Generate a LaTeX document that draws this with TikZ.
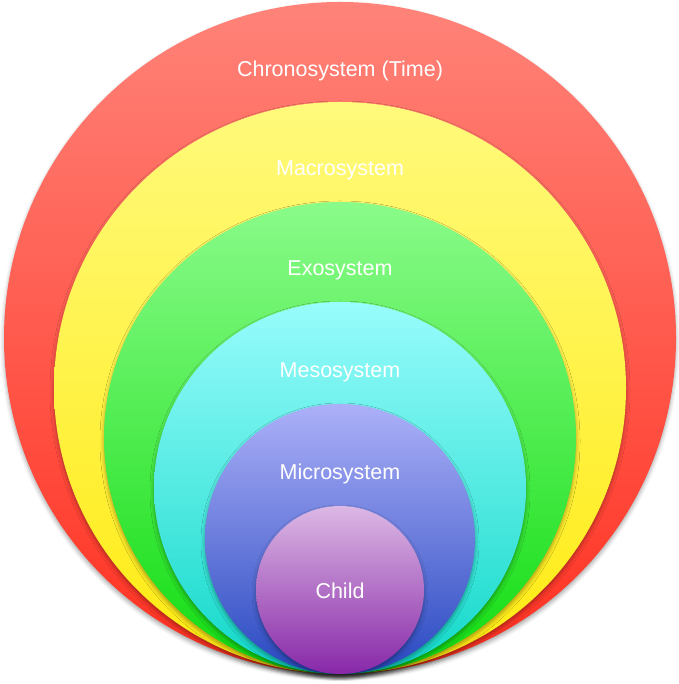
\documentclass[tikz,border=0pt]{standalone}
\usepackage{fontspec}
\setmainfont{Liberation Sans}
\usetikzlibrary{shadows.blur}
\definecolor{redT}{HTML}{FF8379}\definecolor{redB}{HTML}{FF3020}
\definecolor{yelT}{HTML}{FFFA7C}\definecolor{yelB}{HTML}{FFEA10}
\definecolor{grnT}{HTML}{8AFB8A}\definecolor{grnB}{HTML}{10DC10}
\definecolor{cynT}{HTML}{98FCFC}\definecolor{cynB}{HTML}{10D8C8}
\definecolor{bluT}{HTML}{ACB0F8}\definecolor{bluB}{HTML}{2848C0}
\definecolor{chdT}{HTML}{DCB8E4}\definecolor{chdB}{HTML}{8828A8}
\tikzset{
  ring/.style={circle, inner sep=0pt, minimum size=#1, draw=none,
    blur shadow={shadow xshift=0pt, shadow yshift=-3pt, shadow blur radius=4pt, shadow opacity=35}},
  lbl/.style={text=white, font=\fontsize{21.5}{26}\selectfont, inner sep=0pt}
}
\begin{document}
\begin{tikzpicture}[x=1pt,y=1pt]
\useasboundingbox (0,0) rectangle (678,684);
\node[ring=672pt, top color=redT, bottom color=redB] (chrono) at (340,346) {};
\node[ring=572pt, top color=yelT, bottom color=yelB] (macro) at (340,296) {};
\node[ring=472pt, top color=grnT, bottom color=grnB] (exo) at (340,246) {};
\node[ring=372pt, top color=cynT, bottom color=cynB] (meso) at (340,196) {};
\node[ring=270pt, top color=bluT, bottom color=bluB] (micro) at (340,145) {};
\node[ring=168pt, top color=chdT, bottom color=chdB] (child) at (340,94) {};
\node[lbl] (tchrono) at (340,613) {Chronosystem (Time)};
\node[lbl] (tmacro) at (340,514) {Macrosystem};
\node[lbl] (texo) at (340,414) {Exosystem};
\node[lbl] (tmeso) at (340,312) {Mesosystem};
\node[lbl] (tmicro) at (340,210) {Microsystem};
\node[lbl] (tchild) at (340,93) {Child};
\end{tikzpicture}
\end{document}
